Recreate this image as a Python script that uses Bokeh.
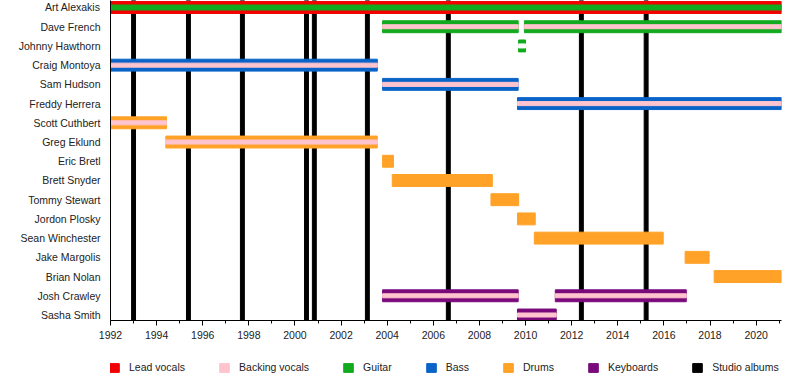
from bokeh.plotting import figure
from bokeh.layouts import column
from bokeh.models import Range1d, FixedTicker, SingleIntervalTicker, Legend, LegendItem, ColumnDataSource
from bokeh.embed import file_html
from bokeh.resources import INLINE

members = ["Art Alexakis", "Dave French", "Johnny Hawthorn", "Craig Montoya", "Sam Hudson",
           "Freddy Herrera", "Scott Cuthbert", "Greg Eklund", "Eric Bretl", "Brett Snyder",
           "Tommy Stewart", "Jordon Plosky", "Sean Winchester", "Jake Margolis", "Brian Nolan",
           "Josh Crawley", "Sasha Smith"]

START = 1992.0
END = 2021.1

# main bars
bar_member = ["Art Alexakis", "Dave French", "Dave French", "Johnny Hawthorn", "Craig Montoya",
              "Sam Hudson", "Freddy Herrera", "Scott Cuthbert", "Greg Eklund", "Eric Bretl",
              "Brett Snyder", "Tommy Stewart", "Jordon Plosky", "Sean Winchester", "Jake Margolis",
              "Brian Nolan", "Josh Crawley", "Josh Crawley", "Sasha Smith"]
bar_start = [1992.0, 2003.8, 2009.95, 2009.7, 1992.0, 2003.8, 2009.65, 1992.0, 1994.4, 2003.8,
             2004.22, 2008.5, 2009.65, 2010.38, 2016.92, 2018.18, 2003.8, 2011.29, 2009.65]
bar_end = [END, 2009.68, END, 2010.0, 2003.57, 2009.68, END, 1994.43, 2003.57, 2004.27,
           2008.56, 2009.7, 2010.42, 2015.97, 2017.96, END, 2009.68, 2016.97, 2011.33]
bar_role = ["Lead vocals", "Guitar", "Guitar", "Guitar", "Bass", "Bass", "Bass", "Drums", "Drums",
            "Drums", "Drums", "Drums", "Drums", "Drums", "Drums", "Drums", "Keyboards", "Keyboards",
            "Keyboards"]

# secondary (inner stripe) roles
stripe_member = ["Art Alexakis", "Dave French", "Dave French", "Johnny Hawthorn", "Craig Montoya",
                 "Sam Hudson", "Freddy Herrera", "Scott Cuthbert", "Greg Eklund", "Josh Crawley",
                 "Josh Crawley", "Sasha Smith"]
stripe_start = [1992.0, 2003.8, 2009.95, 2009.7, 1992.0, 2003.8, 2009.65, 1992.0, 1994.4, 2003.8,
                2011.29, 2009.65]
stripe_end = [END, 2009.68, END, 2010.0, 2003.57, 2009.68, END, 1994.43, 2003.57, 2009.68,
              2016.97, 2011.33]
stripe_role = ["Guitar", "Backing vocals", "Backing vocals", "None", "Backing vocals",
               "Backing vocals", "Backing vocals", "Backing vocals", "Backing vocals",
               "Backing vocals", "Backing vocals", "Backing vocals"]

album_years = [1993.0, 1995.38, 1997.72, 2000.5, 2000.84, 2003.14, 2006.65, 2012.42, 2015.23]

roles = ["Lead vocals", "Backing vocals", "Guitar", "Bass", "Drums", "Keyboards"]
colors = {"Lead vocals": "#F20000", "Backing vocals": "#FFC4CE", "Guitar": "#12AA1E",
          "Bass": "#0A64C8", "Drums": "#FFA227", "Keyboards": "#7A0A7C", "None": "#FFFFFF",
          "Studio albums": "#000000"}
legend_order = ["Lead vocals", "Backing vocals", "Guitar", "Bass", "Drums", "Keyboards",
                "Studio albums"]

n = len(members)
y_top = -0.364
y_bottom = 16.286

p = figure(width=800, height=350, output_backend="svg", toolbar_location=None,
           x_range=Range1d(START, END), y_range=Range1d(y_bottom, y_top),
           min_border_left=110, min_border_right=19, min_border_top=0, min_border_bottom=30)
p.outline_line_color = None
p.xgrid.visible = False
p.ygrid.visible = False
p.background_fill_color = "white"

# albums behind
p.vbar(x=album_years, width=0.17, top=y_top, bottom=y_bottom, color="#000000")

for role in roles:
    idx = [i for i, r in enumerate(bar_role) if r == role]
    if not idx:
        continue
    src = ColumnDataSource(dict(
        y=[members.index(bar_member[i]) for i in idx],
        left=[bar_start[i] for i in idx],
        right=[bar_end[i] for i in idx]))
    p.hbar(y="y", left="left", right="right", height=0.62, source=src, color=colors[role])

for role in ["Guitar", "Backing vocals", "None"]:
    idx = [i for i, r in enumerate(stripe_role) if r == role]
    src = ColumnDataSource(dict(
        y=[members.index(stripe_member[i]) for i in idx],
        left=[stripe_start[i] for i in idx],
        right=[stripe_end[i] for i in idx]))
    h = 0.26 if role == "Guitar" else 0.21
    p.hbar(y="y", left="left", right="right", height=h, source=src, color=colors[role])

font = "Liberation Sans"
txt = "#222222"

# x axis
xa = p.xaxis[0]
xa.ticker = SingleIntervalTicker(interval=2, num_minor_ticks=2)
xa.axis_line_color = "black"
xa.major_tick_line_color = "black"
xa.minor_tick_line_color = "black"
xa.major_tick_out = 5
xa.major_tick_in = 0
xa.minor_tick_out = 3
xa.minor_tick_in = 0
xa.major_label_text_font = font
xa.major_label_text_font_size = "10.5px"
xa.major_label_text_color = txt
xa.major_label_standoff = 5

# y axis
ya = p.yaxis[0]
ya.ticker = FixedTicker(ticks=list(range(n)))
ya.major_label_overrides = {i: m for i, m in enumerate(members)}
ya.axis_line_color = "black"
ya.major_tick_line_color = None
ya.minor_tick_line_color = None
ya.major_tick_out = 0
ya.major_tick_in = 0
ya.major_label_standoff = 10
ya.major_label_text_font = font
ya.major_label_text_font_size = "10.5px"
ya.major_label_text_color = txt

# legend strip (separate figure below the chart)
lg = figure(width=800, height=30, output_backend="svg", toolbar_location=None,
            x_range=Range1d(0, 1), y_range=Range1d(0, 1),
            x_axis_location=None, y_axis_location=None,
            min_border_left=0, min_border_right=0, min_border_top=0, min_border_bottom=0)
lg.outline_line_color = None
lg.xgrid.visible = False
lg.ygrid.visible = False
nan = float("nan")
items = []
for k in legend_order:
    r = lg.hbar(y=[nan], left=[nan], right=[nan], height=1, color=colors[k])
    items.append(LegendItem(label=k, renderers=[r]))
legend = Legend(items=items, orientation="horizontal", location=(-2, 7),
                glyph_width=12, glyph_height=11, label_height=11, label_standoff=9,
                spacing=33, padding=0, margin=0, border_line_color=None,
                background_fill_alpha=0, label_text_font=font, label_text_font_size="10.5px",
                label_text_color=txt)
lg.add_layout(legend, "center")

layout = column(p, lg, spacing=0)
open("out.html", "w").write(file_html(layout, INLINE))
